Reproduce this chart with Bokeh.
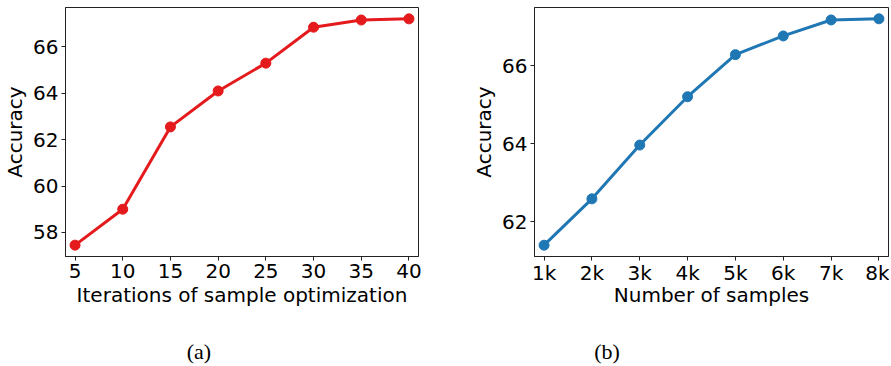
from bokeh.plotting import figure
from bokeh.layouts import row, column
from bokeh.models import Range1d, FixedTicker, Div, CustomJSTickFormatter
from bokeh.embed import file_html
from bokeh.resources import INLINE

# ---- data ----
iters = [5, 10, 15, 20, 25, 30, 35, 40]
acc_iters = [57.45, 59.0, 62.55, 64.1, 65.3, 66.85, 67.16, 67.21]

samples = [1, 2, 3, 4, 5, 6, 7, 8]
sample_labels = ["1k", "2k", "3k", "4k", "5k", "6k", "7k", "8k"]
acc_samples = [61.4, 62.59, 63.97, 65.21, 66.29, 66.77, 67.18, 67.21]

left_yticks = [58, 60, 62, 64, 66]
right_yticks = [62, 64, 66]

FONT = "DejaVu Sans"


def style(p, xlabel, ylabel):
    p.outline_line_color = "#222222"
    p.outline_line_width = 1
    p.outline_line_alpha = 1
    p.xgrid.visible = False
    p.ygrid.visible = False
    p.background_fill_color = "white"
    p.border_fill_color = "white"
    for ax in (p.xaxis[0], p.yaxis[0]):
        ax.axis_line_color = "#222222"
        ax.major_tick_line_color = "#222222"
        ax.major_tick_out = 4
        ax.major_tick_in = 0
        ax.minor_tick_line_color = None
        ax.major_label_text_font = FONT
        ax.major_label_text_font_size = "20px"
        ax.major_label_text_color = "black"
        ax.axis_label_text_font = FONT
        ax.axis_label_text_font_size = "20px"
        ax.axis_label_text_font_style = "normal"
        ax.axis_label_text_color = "black"
        ax.axis_label_standoff = 3
    p.yaxis[0].major_label_standoff = 3
    p.xaxis[0].axis_label = xlabel
    p.yaxis[0].axis_label = ylabel


p1 = figure(frame_width=353, frame_height=249, min_border_left=57, min_border_right=22,
            min_border_top=7, min_border_bottom=70,
            x_range=Range1d(4.0, 41.0), y_range=Range1d(56.96, 67.70),
            output_backend="svg", toolbar_location=None)
style(p1, "Iterations of sample optimization", "Accuracy")
p1.xaxis[0].major_label_standoff = 3
p1.xaxis[0].axis_label_standoff = 2
p1.xaxis[0].ticker = FixedTicker(ticks=iters)
p1.yaxis[0].ticker = FixedTicker(ticks=left_yticks)
p1.line(iters, acc_iters, line_color="#e41a1c", line_width=3)
p1.scatter(iters, acc_iters, size=10, fill_color="#e41a1c", line_color="#e41a1c")

p2 = figure(frame_width=354, frame_height=249, min_border_left=92, min_border_right=1,
            min_border_top=7, min_border_bottom=70,
            x_range=Range1d(0.8, 8.2), y_range=Range1d(61.11, 67.5),
            output_backend="svg", toolbar_location=None)
style(p2, "Number of samples", "Accuracy")
p2.xaxis[0].major_label_standoff = 0
p2.xaxis[0].axis_label_standoff = -5
p2.xaxis[0].ticker = FixedTicker(ticks=samples)
p2.xaxis[0].formatter = CustomJSTickFormatter(
    args=dict(svals=samples, slabels=sample_labels),
    code="const i = svals.indexOf(Math.round(tick)); return i >= 0 ? slabels[i] : '';")
p2.yaxis[0].ticker = FixedTicker(ticks=right_yticks)
p2.line(samples, acc_samples, line_color="#1f77b4", line_width=3)
p2.scatter(samples, acc_samples, size=10, fill_color="#1f77b4", line_color="#1f77b4")

cap_style = "font-family:'Liberation Serif'; font-size:22px; line-height:normal; color:black; text-align:center; padding-top:8px;"
d1 = Div(text=f'<div style="{cap_style} width:388px;">(a)</div>', width=432, height=24)
d2 = Div(text=f'<div style="{cap_style} width:320px;">(b)</div>', width=447, height=24)

layout = row(column(p1, d1, spacing=0), column(p2, d2, spacing=0), spacing=0)

open("out.html", "w").write(file_html(layout, INLINE))
